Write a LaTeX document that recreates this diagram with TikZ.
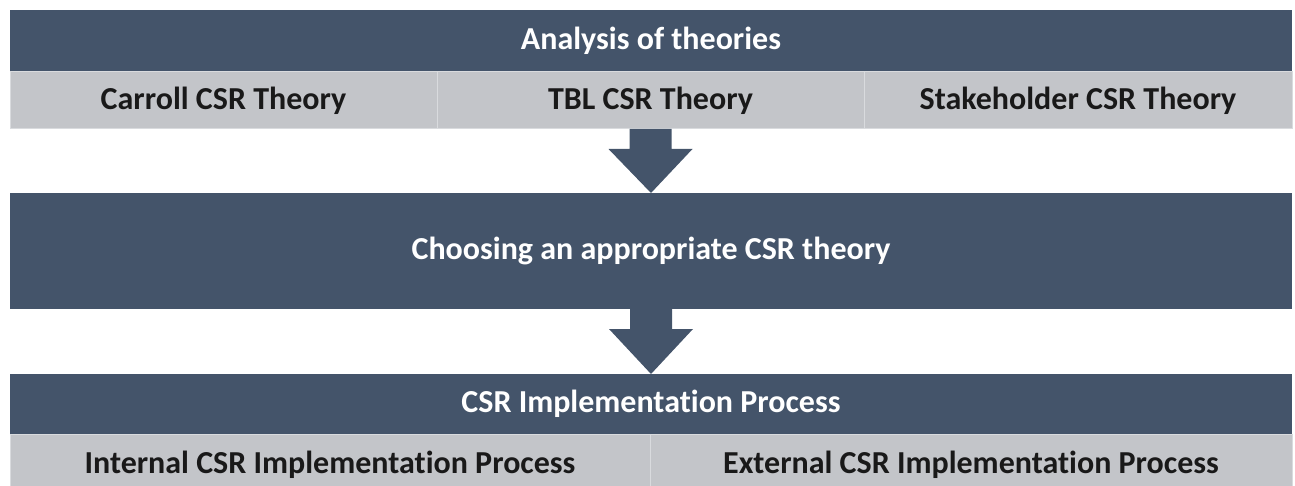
\documentclass[tikz,border=0pt]{standalone}
\usepackage{fontspec}
\setmainfont{Carlito}[Ligatures=NoCommon]
\usetikzlibrary{positioning}
\definecolor{slate}{HTML}{44546A}
\definecolor{cellgray}{HTML}{C3C5C9}
\definecolor{cellline}{HTML}{D9DBDE}
\tikzset
{
    headbar/.style = {rectangle, fill=slate, text=white, inner sep=0pt, outer sep=0pt, minimum width=1282pt, font=\bfseries\fontsize{32}{36}\selectfont},
    cell/.style    = {rectangle, fill=cellgray, draw=cellline, line width=1pt, inner sep=0pt, outer sep=0pt, text=black!90, font=\bfseries\fontsize{32}{36}\selectfont},
    blockarrow/.style = {fill=slate}
}

\begin{document}
\begin{tikzpicture}[x=1pt, y=-1pt]
	 \newcommand\SHAFTW{21pt}
	 \newcommand\HEADW{42pt}
	 \newcommand\SHAFTL{20pt}
	 \useasboundingbox (0,0) rectangle (1295,486);

   \node (theories) [headbar, minimum height=62pt]                   at (651, 41)  {Analysis of theories};
   \node (carroll)  [cell, minimum width=427pt, minimum height=57pt] [below right=0pt of theories.south west] {Carroll CSR Theory};
   \node (tbl)      [cell, minimum width=427pt, minimum height=57pt] [right=0pt of carroll]  {TBL CSR Theory};
   \node (stake)    [cell, minimum width=428pt, minimum height=57pt] [right=0pt of tbl]      {Stakeholder CSR Theory};

   \node (choose)   [headbar, minimum height=116pt]                  at (651, 251) {Choosing an appropriate CSR theory};

   \node (impl)     [headbar, minimum height=60pt]                   at (651, 404) {CSR Implementation Process};
   \node (internal) [cell, minimum width=640pt, minimum height=62pt] [below right=0pt of impl.south west] {Internal CSR Implementation Process};
   \node (external) [cell, minimum width=642pt, minimum height=62pt] [right=0pt of internal] {External CSR Implementation Process};

	 %% block arrows between the stages
	 \foreach \from/\to in {tbl/choose, choose/impl}
	    \fill[blockarrow] ([xshift=-\SHAFTW]\from.south) -- ([xshift=\SHAFTW]\from.south)
	       -- ([xshift=\SHAFTW, yshift=-\SHAFTL]\from.south) -- ([xshift=\HEADW, yshift=-\SHAFTL]\from.south)
	       -- (\to.north)
	       -- ([xshift=-\HEADW, yshift=-\SHAFTL]\from.south) -- ([xshift=-\SHAFTW, yshift=-\SHAFTL]\from.south) -- cycle;
\end{tikzpicture}
\end{document}
